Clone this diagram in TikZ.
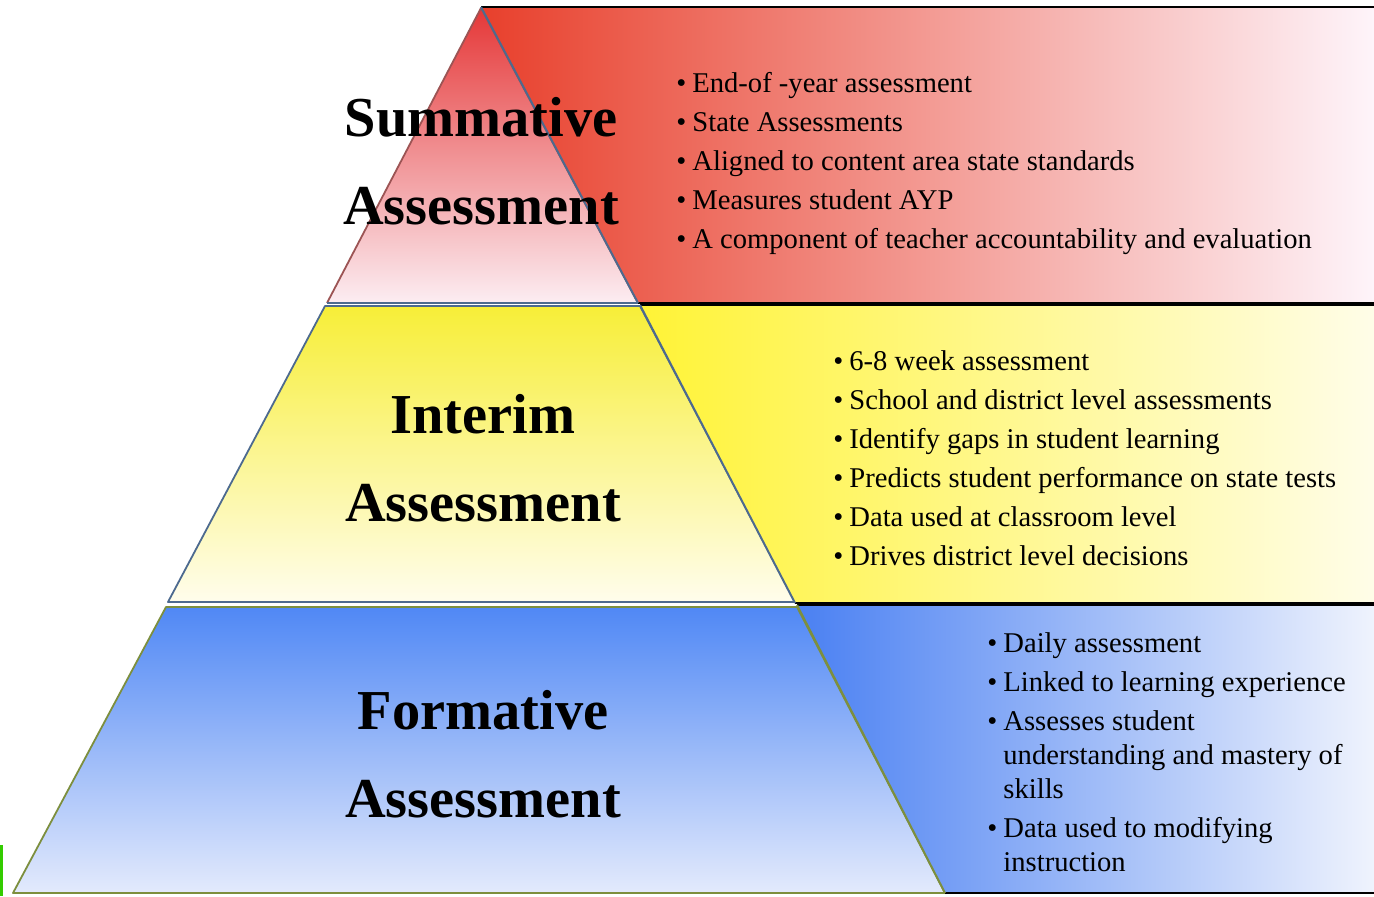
\documentclass[tikz,border=0pt]{standalone}
\usepackage{fontspec}
\setmainfont{Liberation Serif}

\definecolor{sumtop}{HTML}{E53737}
\definecolor{sumbot}{HTML}{FCEDF2}
\definecolor{sumleft}{HTML}{E8402C}
\definecolor{summid}{HTML}{EE848F}
\definecolor{sumright}{HTML}{FEF4FA}
\definecolor{inttop}{HTML}{F7EE38}
\definecolor{intbot}{HTML}{FFFDEC}
\definecolor{intleft}{HTML}{FFF336}
\definecolor{intmid}{HTML}{FFF560}
\definecolor{intright}{HTML}{FFFDE8}
\definecolor{formtop}{HTML}{5088F5}
\definecolor{formbot}{HTML}{E3EAFC}
\definecolor{formleft}{HTML}{4A80F2}
\definecolor{formmid}{HTML}{7FA2F5}
\definecolor{formright}{HTML}{EFF3FD}
\definecolor{slateedge}{HTML}{4D6A8F}
\definecolor{redge}{HTML}{9C5454}
\definecolor{oliveedge}{HTML}{7D8F3E}

\begin{document}
\begin{tikzpicture}[x = 0.5pt, y = 0.5pt, line join = round,
		heading/.style = {font = \fontsize{28.2}{44}\selectfont\bfseries, align = center, inner sep = 0},
		points/.style = {font = \fontsize{14.3}{19.5}\selectfont, anchor = west, inner sep = 0},
		rimline/.style = {draw = black, line width = 0.9pt},
		slopeline/.style = {draw = slateedge, line width = 1pt}]

	\useasboundingbox (0, 0) rectangle (1374, 896);

	\begin{scope}[line width = 0.9pt]
	
		\shade [top color = sumtop, bottom color = sumbot] (481, 888) -- (327, 593) -- (638, 593) -- cycle;
		\draw [redge] (638, 593) -- (481, 888) -- (327, 593);
		\draw [slateedge] (327, 593) -- (638, 593);
		
		\shade [draw = slateedge, top color = inttop, bottom color = intbot] (325, 590) -- (640, 590) -- (795, 294) -- (168, 294) -- cycle;
		\shade [draw = oliveedge, top color = formtop, bottom color = formbot] (166, 289) -- (797, 289) -- (945, 3) -- (13, 3) -- cycle;
	
	\end{scope}

	\begin{scope}
	
		\shade [left color = sumleft, middle color = summid, right color = sumright] (481, 889) -- (1374, 889) -- (1374, 593) -- (638, 593) -- cycle;
		\shade [left color = intleft, middle color = intmid, right color = intright] (640, 591) -- (1374, 591) -- (1374, 293) -- (795, 293) -- cycle;
		\shade [left color = formleft, middle color = formmid, right color = formright] (797, 291) -- (1374, 291) -- (1374, 3) -- (945, 3) -- cycle;
	
	\end{scope}

	\draw [rimline] (481, 889) -- (1374, 889);
	\draw [rimline] (638, 593) -- (1374, 593);
	\draw [rimline] (640, 591) -- (1374, 591);
	\draw [rimline] (795, 293) -- (1374, 293);
	\draw [rimline] (797, 291) -- (1374, 291);
	\draw [rimline] (945, 3) -- (1374, 3);

	\draw [slopeline] (481, 889) -- (638, 593);
	\draw [slopeline] (640, 591) -- (795, 293);
	\draw [slopeline, oliveedge] (797, 291) -- (945, 3);

	\fill [green!60!olive] (0, 0) rectangle (3, 51);

	\node [heading] (summative) at (481, 735) {Summative\\Assessment};
	\node [heading] (interim) at (483, 438) {Interim\\Assessment};
	\node [heading] (formative) at (483, 142) {Formative\\Assessment};

	\node [points] (sumlist) at (676, 733) {\begin{tabular}{@{}l@{\hspace{3pt}}l@{}}
		\textbullet & End-of -year assessment\\
		\textbullet & State Assessments\\
		\textbullet & Aligned to content area state standards\\
		\textbullet & Measures student AYP\\
		\textbullet & A component of teacher accountability and evaluation
	\end{tabular}};

	\node [points] (intlist) at (833, 436) {\begin{tabular}{@{}l@{\hspace{3pt}}l@{}}
		\textbullet & 6-8 week assessment\\
		\textbullet & School and district level assessments\\
		\textbullet & Identify gaps in student learning\\
		\textbullet & Predicts student performance on state tests\\
		\textbullet & Data used at classroom level\\
		\textbullet & Drives district level decisions
	\end{tabular}};

	\node [points, font = \fontsize{14.3}{17}\selectfont] (formlist) at (987, 141) {\begin{tabular}{@{}l@{\hspace{3pt}}l@{}}
		\textbullet & Daily assessment\\[2.5pt]
		\textbullet & Linked to learning experience\\[2.5pt]
		\textbullet & Assesses student\\
		& understanding and mastery of\\
		& skills\\[2.5pt]
		\textbullet & Data used to modifying\\
		& instruction
	\end{tabular}};

\end{tikzpicture}
\end{document}
